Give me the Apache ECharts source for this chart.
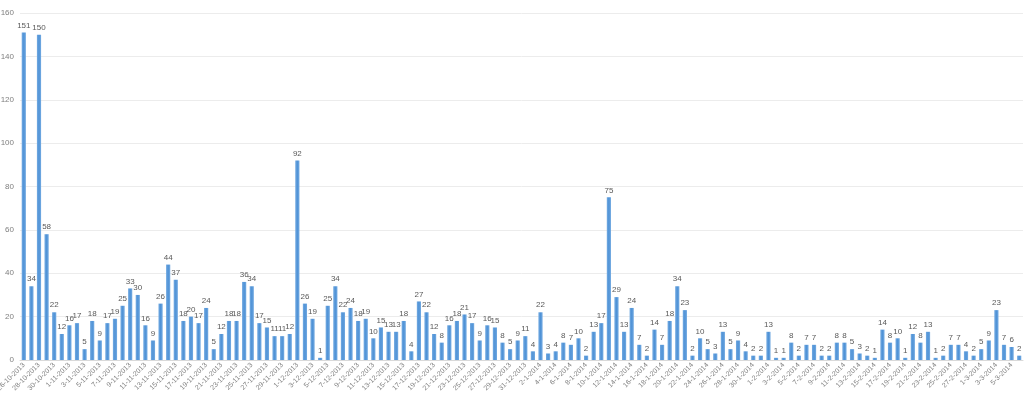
<!DOCTYPE html>
<html>
<head>
<meta charset="utf-8">
<script src="https://cdn.jsdelivr.net/npm/echarts@6/dist/echarts.min.js"></script>
<style>
html,body{margin:0;padding:0;background:#fff;}
#chart{width:1030px;height:402px;}
</style>
</head>
<body>
<div id="chart"></div>
<script>
const categories = [
"26-10-2013","27-10-2013","28-10-2013","29-10-2013","30-10-2013","31-10-2013",
"1-11-2013","2-11-2013","3-11-2013","4-11-2013","5-11-2013","6-11-2013","7-11-2013","8-11-2013","9-11-2013","10-11-2013",
"11-11-2013","12-11-2013","13-11-2013","14-11-2013","15-11-2013","16-11-2013","17-11-2013","18-11-2013","19-11-2013","20-11-2013",
"21-11-2013","22-11-2013","23-11-2013","24-11-2013","25-11-2013","26-11-2013","27-11-2013","28-11-2013","29-11-2013","30-11-2013",
"1-12-2013","2-12-2013","3-12-2013","4-12-2013","5-12-2013","6-12-2013","7-12-2013","8-12-2013","9-12-2013","10-12-2013",
"11-12-2013","12-12-2013","13-12-2013","14-12-2013","15-12-2013","16-12-2013","17-12-2013","18-12-2013","19-12-2013","20-12-2013",
"21-12-2013","22-12-2013","23-12-2013","24-12-2013","25-12-2013","26-12-2013","27-12-2013","28-12-2013","29-12-2013","30-12-2013","31-12-2013",
"1-1-2014","2-1-2014","3-1-2014","4-1-2014","5-1-2014","6-1-2014","7-1-2014","8-1-2014","9-1-2014","10-1-2014",
"11-1-2014","12-1-2014","13-1-2014","14-1-2014","15-1-2014","16-1-2014","17-1-2014","18-1-2014","19-1-2014","20-1-2014",
"21-1-2014","22-1-2014","23-1-2014","24-1-2014","25-1-2014","26-1-2014","27-1-2014","28-1-2014","29-1-2014","30-1-2014","31-1-2014",
"1-2-2014","2-2-2014","3-2-2014","4-2-2014","5-2-2014","6-2-2014","7-2-2014","8-2-2014","9-2-2014","10-2-2014",
"11-2-2014","12-2-2014","13-2-2014","14-2-2014","15-2-2014","16-2-2014","17-2-2014","18-2-2014","19-2-2014","20-2-2014",
"21-2-2014","22-2-2014","23-2-2014","24-2-2014","25-2-2014","26-2-2014","27-2-2014","28-2-2014",
"1-3-2014","2-3-2014","3-3-2014","4-3-2014","5-3-2014","6-3-2014"
];

const values = [
151,34,150,58,22,12,16,17,5,18,9,17,19,25,33,30,16,9,26,44,37,18,20,17,24,5,12,18,18,36,34,17,
15,11,11,12,92,26,19,1,25,34,22,24,18,19,10,15,13,13,18,4,27,22,12,8,16,18,21,17,9,16,15,8,5,
9,11,4,22,3,4,8,7,10,2,13,17,75,29,13,24,7,2,14,7,18,34,23,2,10,5,3,13,5,9,4,2,
2,13,1,1,8,2,7,7,2,2,8,8,5,3,2,1,14,8,10,1,12,8,13,1,2,7,7,4,2,5,9,23,7,6,2
];

const yTicks = { min: 0, max: 160, interval: 20 };

const chart = echarts.init(document.getElementById('chart'));
chart.setOption({
  animation: false,
  backgroundColor: '#ffffff',
  grid: { left: 20, right: 7, top: 13, bottom: 42, containLabel: false, outerBoundsMode: 'none' },
  xAxis: {
    type: 'category',
    data: categories,
    axisLine: { show: true, lineStyle: { color: '#d9d9d9' } },
    axisTick: { show: false },
    axisLabel: {
      interval: 1,
      rotate: 45,
      fontSize: 7,
      color: '#7f7f7f',
      margin: 4,
      hideOverlap: false,
      fontFamily: 'Liberation Sans'
    }
  },
  yAxis: {
    type: 'value',
    min: yTicks.min,
    max: yTicks.max,
    interval: yTicks.interval,
    axisLine: { show: false },
    axisTick: { show: false },
    splitLine: { lineStyle: { color: '#ececec', width: 1 } },
    axisLabel: { fontSize: 8, color: '#7f7f7f', margin: 6, fontFamily: 'Liberation Sans' }
  },
  series: [{
    type: 'bar',
    data: values,
    barWidth: '55%',
    itemStyle: {
      color: new echarts.graphic.LinearGradient(0, 0, 1, 0, [
        { offset: 0, color: '#74abe2' },
        { offset: 0.5, color: '#4f92d6' },
        { offset: 1, color: '#74abe2' }
      ])
    },
    label: {
      show: true,
      position: 'top',
      distance: 3,
      fontSize: 8,
      color: '#595959',
      fontFamily: 'Liberation Sans'
    }
  }]
});
</script>
</body>
</html>
